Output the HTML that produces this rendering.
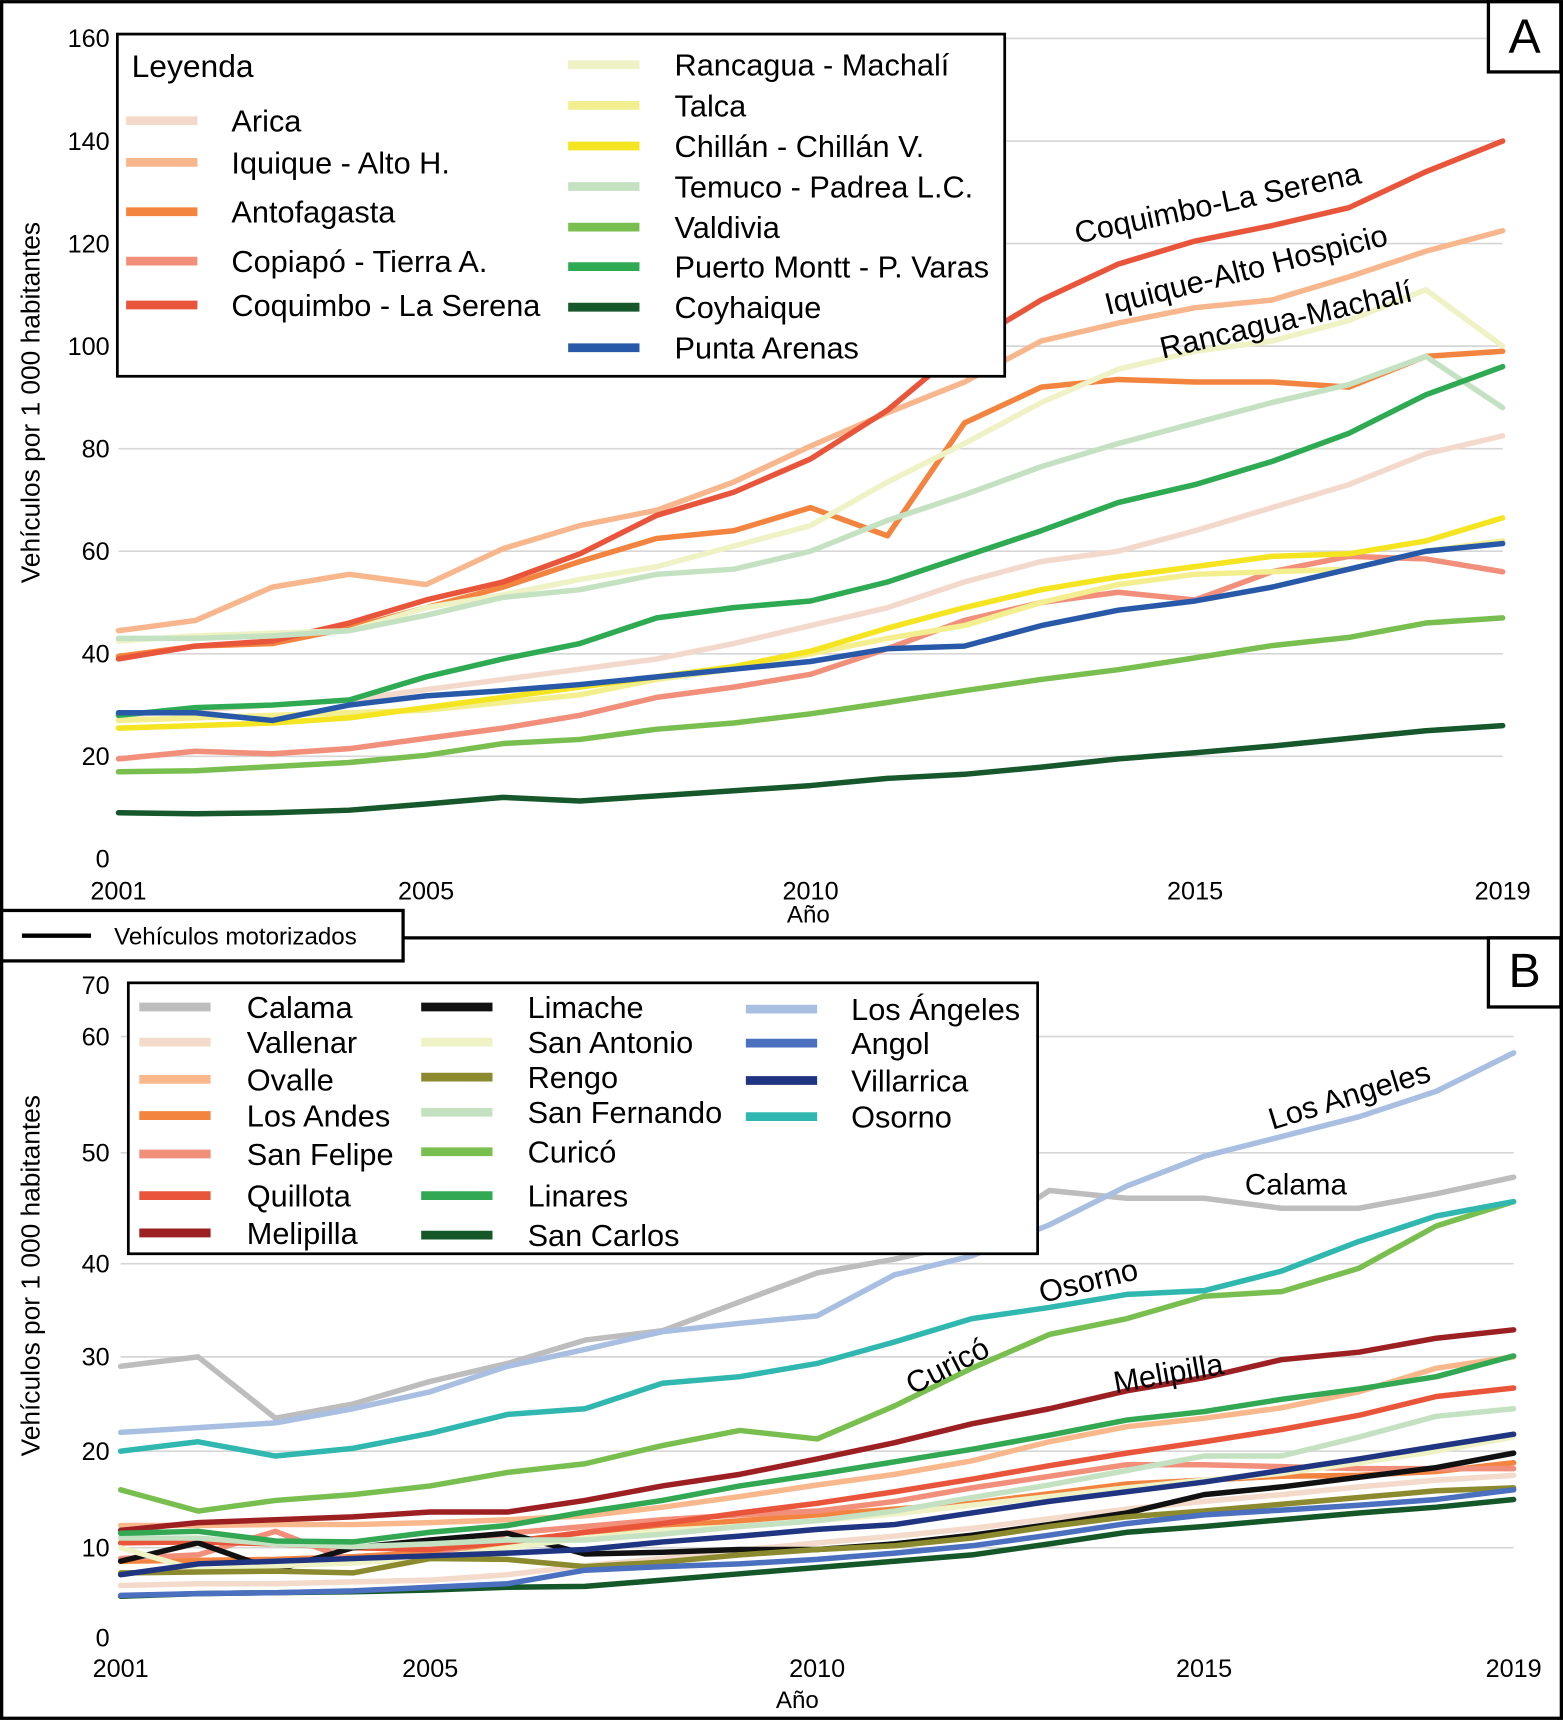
<!DOCTYPE html>
<html><head><meta charset="utf-8"><style>
html,body{margin:0;padding:0;background:#fff}
svg{display:block;font-family:"Liberation Sans",Arial,sans-serif}
</style></head><body>
<svg id="chart" width="1563" height="1720" viewBox="0 0 1425 1568" xmlns="http://www.w3.org/2000/svg">
<rect x="0" y="0" width="1425" height="1568" fill="#fff"/>
<g id="gridA"></g><g id="linesA"></g><g id="gridB"></g><g id="linesB"></g><g id="over"></g>
</svg>
<script>
const years=[2001,2002,2003,2004,2005,2006,2007,2008,2009,2010,2011,2012,2013,2014,2015,2016,2017,2018,2019];
const ticksA=[0,20,40,60,80,100,120,140,160];
const ticksB=[0,10,20,30,40,50,60,70];
const tickPosB=[1493,1411,1323,1237,1152,1051,945,898];
const xTicks=[2001,2005,2010,2015,2019];
const namesA=["Arica","Iquique - Alto H.","Antofagasta","Copiapó - Tierra A.","Coquimbo - La Serena","Rancagua - Machalí","Talca","Chillán - Chillán V.","Temuco - Padrea L.C.","Valdivia","Puerto Montt - P. Varas","Coyhaique","Punta Arenas"];
const colorsA=["#f3d9cb","#f8b68c","#f3843f","#f18f7b","#e9553b","#eef2c4","#f4ef8e","#f5e420","#c4e2c2","#79bf4f","#2eaa52","#16582c","#2759a8"];
const arica=[28,29,30,31,33,35,37,39,42,45.5,49,54,58,60,64,68.5,73,79,82.5];
const iquique=[44.5,46.5,53,55.5,53.5,60.5,65,68,73.5,80.5,87,93,101,104.5,107.5,109,113.5,118.5,122.5];
const antofagasta=[39.5,41.5,42,45,49,53,58,62.5,64,68.5,63,85,92,93.5,93,93,92,98,99];
const copiapo=[19.5,21,20.5,21.5,23.5,25.5,28,31.5,33.5,36,41,46.5,50,52,50.5,56,59,58.5,56];
const coquimbo=[39,41.5,42.5,46,50.5,54,59.5,67,71.5,78,87.5,100,109,116,120.5,123.5,127,134,140];
const rancagua=[42.5,43.5,44,44.5,49,51.5,54.5,57,61,65,73.5,81,89,95.5,99,101,105,111,100];
const talca=[27,27.5,28,28.5,29,30.5,32,35,37,40,43,45.5,50,53.5,55.5,56,56.5,60,62];
const chillan=[25.5,26,26.5,27.5,29.5,31.5,33.5,35.5,37.5,40.5,45,49,52.5,55,57,59,59.5,62,66.5];
const temuco=[43,43,43.5,44.5,47.5,51,52.5,55.5,56.5,60,66,71,76.5,81,85,89,92.5,98,88];
const valdivia=[17,17.2,18,18.8,20.2,22.5,23.3,25.3,26.5,28.3,30.5,32.8,35,36.9,39.2,41.6,43.2,46,47];
const puertoMontt=[28,29.5,30,31,35.5,39,42,47,49,50.3,54,59,64,69.5,73,77.5,83,90.5,96];
const coyhaique=[9,8.8,9,9.5,10.7,12,11.3,12.3,13.3,14.3,15.7,16.5,17.9,19.5,20.7,22,23.5,25,26];
const puntaArenas=[28.5,28.5,27,30,31.8,32.8,34,35.5,37,38.5,41,41.5,45.5,48.5,50.3,53,56.5,60,61.5];
const seriesA=[arica,iquique,antofagasta,copiapo,coquimbo,rancagua,talca,chillan,temuco,valdivia,puertoMontt,coyhaique,puntaArenas];

const namesB=["Calama","Vallenar","Ovalle","Los Andes","San Felipe","Quillota","Melipilla","Limache","San Antonio","Rengo","San Fernando","Curicó","Linares","San Carlos","Los Ángeles","Angol","Villarrica","Osorno"];
const colorsB=["#bdbdbd","#f3dacb","#f9b88c","#f3843f","#f18f7b","#e9553b","#9c1f22","#111111","#eef2c4","#8c8a2e","#c4e2c2","#79bf4f","#33a853","#14582a","#a9bfe2","#4a70bf","#1f3581","#30b8b0"];
const calama=[29,30,23.5,25,27.4,29.3,31.8,32.8,35.9,39,40.4,42,46.6,45.9,45.9,45,45,46.3,47.8];
const vallenar=[5.8,6,6,6.2,6.4,7,8,8.8,9.7,10.5,11.2,12,13,14,14.8,15.5,16.3,17,17.5];
const ovalle=[12.3,12.3,12.4,12.4,12.6,12.9,13.3,14.2,15.3,16.5,17.6,19,21,22.6,23.5,24.6,26.3,28.8,30];
const losAndes=[8.5,8.6,8.7,9,9.5,10.5,11.6,12.2,12.8,13.4,14,14.6,15.6,16.6,17,17.4,17.5,17.9,18.8];
const sanFelipe=[8.8,9.2,11.7,8.5,8.8,11.5,12.2,12.9,13.4,13.8,14.8,16.2,17.4,18.6,18.6,18.4,18.2,18.2,18.2];
const quillota=[10.5,10.6,10.4,10,9.8,10.6,11.6,12.5,13.6,14.6,15.8,17.1,18.5,19.8,21,22.3,23.8,25.8,26.7];
const melipilla=[11.8,12.6,12.9,13.2,13.7,13.7,14.9,16.4,17.6,19.2,20.9,22.9,24.5,26.4,27.8,29.7,30.5,32,32.9];
const limache=[8.5,10.5,7.5,10,10.8,11.5,9.3,9.5,9.8,9.8,10.4,11.3,12.4,13.6,15.5,16.3,17.3,18.3,19.8];
const sanAntonio=[10,7.5,8,8.3,8.9,10,11,11.8,12.2,12.8,13.5,14.4,15.3,16.2,17,17.7,18.8,20,21.5];
const rengo=[7.2,7.3,7.4,7.2,8.8,8.7,7.9,8.4,9.2,9.8,10.2,11,12.2,13.2,13.8,14.5,15.2,15.9,16.2];
const sanFernando=[11,11,10.4,10.1,10.4,10.8,10.8,11.4,12.2,12.8,13.8,15.2,16.5,18,19.5,19.5,21.5,23.7,24.5];
const curico=[16,13.8,14.9,15.5,16.4,17.8,18.7,20.6,22.2,21.3,24.8,28.8,32.4,34.1,36.5,37,39.5,43.4,45.6];
const linares=[11.5,11.7,10.7,10.6,11.6,12.3,13.7,14.9,16.4,17.6,18.9,20.2,21.7,23.3,24.2,25.5,26.6,27.9,30.1];
const sanCarlos=[4.6,4.9,5,5.1,5.3,5.6,5.7,6.4,7.1,7.8,8.5,9.2,10.4,11.6,12.2,12.9,13.6,14.2,15];
const losAngeles=[22,22.5,23,24.5,26.3,29,30.8,32.7,33.6,34.4,38.8,40.7,43.5,47,49.7,51.4,53.1,55.3,58.6];
const angol=[4.7,4.9,5,5.2,5.6,6,7.5,7.9,8.2,8.7,9.4,10.2,11.3,12.5,13.4,13.9,14.4,15,16];
const villarrica=[7,8.2,8.5,8.8,9.1,9.4,9.8,10.6,11.2,11.9,12.4,13.6,14.8,15.8,16.8,18,19.2,20.5,21.8];
const osorno=[20,21,19.5,20.3,21.9,23.9,24.5,27.2,27.9,29.3,31.6,34.1,35.3,36.7,37.1,39.2,42,44.3,45.6];
const seriesB=[calama,vallenar,ovalle,losAndes,sanFelipe,quillota,melipilla,limache,sanAntonio,rengo,sanFernando,curico,linares,sanCarlos,losAngeles,angol,villarrica,osorno];

const NS="http://www.w3.org/2000/svg";
function mk(tag,attrs,parent,txt){const e=document.createElementNS(NS,tag);for(const k in attrs)e.setAttribute(k,attrs[k]);if(txt!==undefined)e.textContent=txt;parent.appendChild(e);return e;}
const xA=y=>108+(y-2001)/18*1262;
const yA=v=>783-v*(748/160);
const xB=y=>110+(y-2001)/18*1270;
function yB(v){for(let i=0;i<ticksB.length-1;i++){if(v<=ticksB[i+1]){return tickPosB[i]+(v-ticksB[i])/(ticksB[i+1]-ticksB[i])*(tickPosB[i+1]-tickPosB[i]);}}return tickPosB[tickPosB.length-1];}
const tickYB=v=>tickPosB[ticksB.indexOf(v)];

const gA=document.getElementById('gridA'),lA=document.getElementById('linesA'),gB=document.getElementById('gridB'),lB=document.getElementById('linesB'),ov=document.getElementById('over');

ticksA.forEach(t=>{
 if(t>0){const l=mk('line',{x1:108,x2:1370,y1:yA(t),y2:yA(t),stroke:'#d6d6d6','stroke-width':1.5},gA);
 
 }
 const tx=mk('text',{x:100,y:yA(t)+8,'text-anchor':'end','font-size':23},gA,t);
 
 
});
xTicks.forEach(y=>{const tx=mk('text',{x:xA(y),y:820,'text-anchor':'middle','font-size':23},gA,y);
 
 });
seriesA.forEach((s,i)=>{
 const p=mk('polyline',{points:s.map((v,j)=>xA(years[j])+','+yA(v)).join(' '),fill:'none',stroke:colorsA[i],'stroke-width':5,'stroke-linejoin':'round','stroke-linecap':'round'},lA);
 
 
});
ticksB.forEach(t=>{
 if(t>0&&t<70){const l=mk('line',{x1:110,x2:1380,y1:tickYB(t),y2:tickYB(t),stroke:'#d6d6d6','stroke-width':1.5},gB);
 
 }
 const tx=mk('text',{x:100,y:tickYB(t)+8,'text-anchor':'end','font-size':23},gB,t);
 
 
});
xTicks.forEach(y=>{const tx=mk('text',{x:xB(y),y:1529,'text-anchor':'middle','font-size':23},gB,y);
 
 });
seriesB.forEach((s,i)=>{
 const p=mk('polyline',{points:s.map((v,j)=>xB(years[j])+','+yB(v)).join(' '),fill:'none',stroke:colorsB[i],'stroke-width':5,'stroke-linejoin':'round','stroke-linecap':'round'},lB);
 
 
});

const legA=mk('g',{},ov);


mk('rect',{x:107,y:31,width:809,height:312,fill:'#fff',stroke:'#000','stroke-width':2.5},legA);
mk('text',{x:120,y:70,'font-size':29},legA,'Leyenda');
const rowsA=[110,148,193,238,278,59,96,133,170,207,243,280,317];
namesA.forEach((n,i)=>{
 const left=i<5;const lx=left?115:518,tx=left?211:615;
 const g=mk('g',{},legA);
 
 
 mk('line',{x1:lx,x2:lx+65,y1:rowsA[i],y2:rowsA[i],stroke:colorsA[i],'stroke-width':8},g);
 mk('text',{x:tx,y:rowsA[i]+10,'font-size':28},g,n);
});
const legB=mk('g',{},ov);


mk('rect',{x:117,y:896,width:829,height:247,fill:'#fff',stroke:'#000','stroke-width':2.5},legB);
const rowsB=[918,950,984,1017,1052,1090,1124,918,950,982,1014,1050,1090,1126,920,951,985,1018];
namesB.forEach((n,i)=>{
 const c=i<7?0:(i<14?1:2);const lx=[127,384,680][c],tx=[225,481,776][c];
 const g=mk('g',{},legB);
 
 
 mk('line',{x1:lx,x2:lx+65,y1:rowsB[i],y2:rowsB[i],stroke:colorsB[i],'stroke-width':8},g);
 mk('text',{x:tx,y:rowsB[i]+10,'font-size':28},g,n);
});
</script>
<svg style="position:absolute;left:0;top:0" width="1563" height="1720" viewBox="0 0 1425 1568" xmlns="http://www.w3.org/2000/svg" font-family="Liberation Sans, Arial, sans-serif">
<rect x="1.5" y="1.5" width="1422" height="1565" fill="none" stroke="#000" stroke-width="3"/>
<line x1="0" y1="855" x2="1425" y2="855" stroke="#000" stroke-width="3"/>
<rect x="1357" y="1.5" width="66" height="64" fill="#fff" stroke="#000" stroke-width="3"/>
<text x="1390" y="48" font-size="44" text-anchor="middle">A</text>
<rect x="1357" y="855" width="66" height="63" fill="#fff" stroke="#000" stroke-width="3"/>
<text x="1390" y="900" font-size="44" text-anchor="middle">B</text>
<rect x="1.5" y="830" width="366" height="46" fill="#fff" stroke="#000" stroke-width="3"/>
<line x1="20" y1="853" x2="83" y2="853" stroke="#000" stroke-width="4"/>
<text x="104" y="861" font-size="22">Vehículos motorizados</text>
<text x="737" y="841" font-size="22" text-anchor="middle">Año</text>
<text x="727" y="1557" font-size="22" text-anchor="middle">Año</text>
<text transform="translate(36,367) rotate(-90)" font-size="24" text-anchor="middle">Vehículos por 1 000 habitantes</text>
<text transform="translate(36,1163) rotate(-90)" font-size="24" text-anchor="middle">Vehículos por 1 000 habitantes</text>
<text transform="translate(982,222) rotate(-12)" font-size="28">Coquimbo-La Serena</text>
<text transform="translate(1010,287) rotate(-14)" font-size="28">Iquique-Alto Hospicio</text>
<text transform="translate(1060,327) rotate(-13)" font-size="28">Rancagua-Machalí</text>
<text transform="translate(1160,1030) rotate(-17)" font-size="28">Los Angeles</text>
<text x="1135" y="1089" font-size="27">Calama</text>
<text transform="translate(950,1188) rotate(-14)" font-size="28">Osorno</text>
<text transform="translate(832,1272) rotate(-27)" font-size="28">Curicó</text>
<text transform="translate(1017,1270) rotate(-10)" font-size="28">Melipilla</text>
</svg>
</body></html>
